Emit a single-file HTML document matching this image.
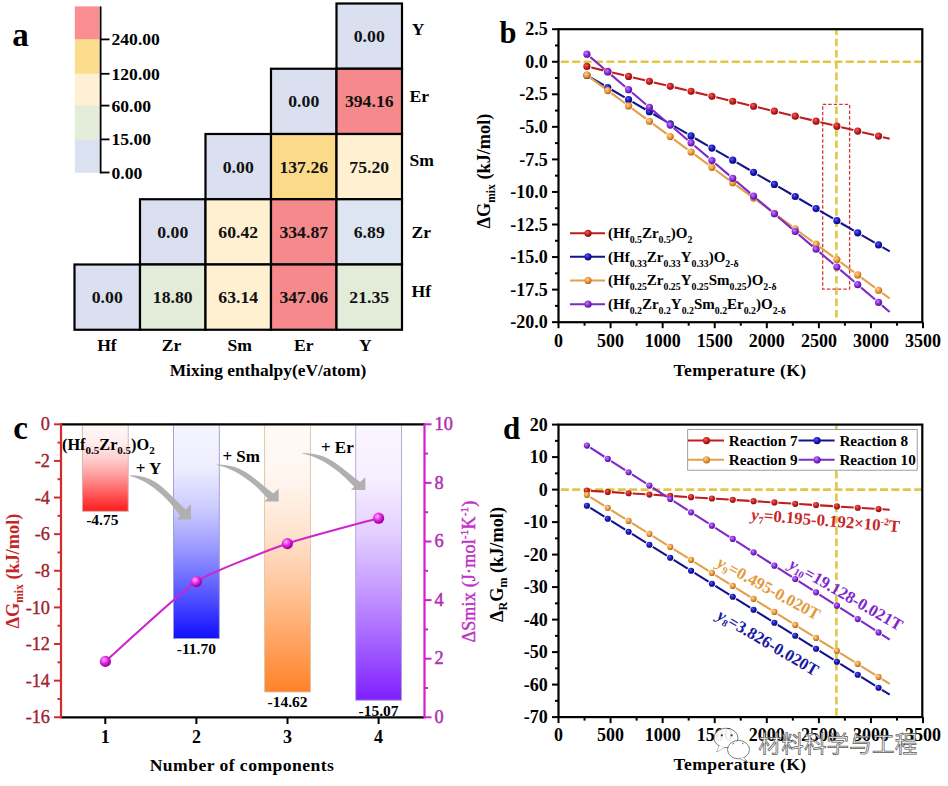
<!DOCTYPE html>
<html><head><meta charset="utf-8"><title>Figure</title>
<style>html,body{margin:0;padding:0;background:#fff;}svg{display:block;}</style></head>
<body><svg width="948" height="786" viewBox="0 0 948 786" font-family="'Liberation Serif', 'Times New Roman', serif">
<defs><radialGradient id="g_red" cx="0.38" cy="0.35" r="0.65"><stop offset="0" stop-color="#F06060"/><stop offset="0.55" stop-color="#C81E1E"/><stop offset="1" stop-color="#8A1010"/></radialGradient><radialGradient id="g_blue" cx="0.38" cy="0.35" r="0.65"><stop offset="0" stop-color="#5A5AF0"/><stop offset="0.55" stop-color="#1818C0"/><stop offset="1" stop-color="#0A0A70"/></radialGradient><radialGradient id="g_orange" cx="0.38" cy="0.35" r="0.65"><stop offset="0" stop-color="#FFD090"/><stop offset="0.55" stop-color="#EE9A3A"/><stop offset="1" stop-color="#B06A20"/></radialGradient><radialGradient id="g_purple" cx="0.38" cy="0.35" r="0.65"><stop offset="0" stop-color="#C080FF"/><stop offset="0.55" stop-color="#8A2BE2"/><stop offset="1" stop-color="#50148A"/></radialGradient><radialGradient id="g_mag" cx="0.38" cy="0.35" r="0.65"><stop offset="0" stop-color="#FFB0FF"/><stop offset="0.55" stop-color="#E020E0"/><stop offset="1" stop-color="#900090"/></radialGradient><linearGradient id="bar1" x1="0" y1="0" x2="0" y2="1"><stop offset="0" stop-color="#FFF6F6"/><stop offset="0.2" stop-color="#FFEFEF"/><stop offset="0.4" stop-color="#FFCDCD"/><stop offset="0.6" stop-color="#FF9898"/><stop offset="0.8" stop-color="#FF5A5A"/><stop offset="1" stop-color="#FF1A1A"/></linearGradient><linearGradient id="bar2" x1="0" y1="0" x2="0" y2="1"><stop offset="0" stop-color="#F5F5FF"/><stop offset="0.2" stop-color="#EEEEFF"/><stop offset="0.4" stop-color="#CACAFF"/><stop offset="0.6" stop-color="#9393FF"/><stop offset="0.8" stop-color="#5353FF"/><stop offset="1" stop-color="#1010FF"/></linearGradient><linearGradient id="bar3" x1="0" y1="0" x2="0" y2="1"><stop offset="0" stop-color="#FFFAF6"/><stop offset="0.2" stop-color="#FFF6F0"/><stop offset="0.4" stop-color="#FFE4D0"/><stop offset="0.6" stop-color="#FFC79E"/><stop offset="0.8" stop-color="#FFA564"/><stop offset="1" stop-color="#FF8228"/></linearGradient><linearGradient id="bar4" x1="0" y1="0" x2="0" y2="1"><stop offset="0" stop-color="#FAF6FF"/><stop offset="0.2" stop-color="#F6EFFF"/><stop offset="0.4" stop-color="#E3CEFF"/><stop offset="0.6" stop-color="#C59AFF"/><stop offset="0.8" stop-color="#A35EFF"/><stop offset="1" stop-color="#7F1FFF"/></linearGradient></defs>
<rect width="948" height="786" fill="#fff"/>
<text x="12.30" y="46.00" font-size="33" text-anchor="start" fill="#000" font-weight="bold" >a</text>
<rect x="74.8" y="6.4" width="24.6" height="33.30" fill="#F98D90"/>
<rect x="74.8" y="39.4" width="24.6" height="34.70" fill="#FCDD8E"/>
<rect x="74.8" y="73.8" width="24.6" height="32.10" fill="#FEF0D2"/>
<rect x="74.8" y="105.6" width="24.6" height="34.10" fill="#E3EDD9"/>
<rect x="74.8" y="139.4" width="24.6" height="33.40" fill="#DAE1F0"/>
<line x1="100.60" y1="6.40" x2="100.60" y2="173.30" stroke="#000" stroke-width="1.8" />
<line x1="100.00" y1="39.40" x2="109.50" y2="39.40" stroke="#000" stroke-width="1.8" />
<text x="111.50" y="45.40" font-size="17.6" text-anchor="start" fill="#000" font-weight="bold" >240.00</text>
<line x1="100.00" y1="73.80" x2="109.50" y2="73.80" stroke="#000" stroke-width="1.8" />
<text x="111.50" y="79.80" font-size="17.6" text-anchor="start" fill="#000" font-weight="bold" >120.00</text>
<line x1="100.00" y1="105.60" x2="109.50" y2="105.60" stroke="#000" stroke-width="1.8" />
<text x="111.50" y="111.60" font-size="17.6" text-anchor="start" fill="#000" font-weight="bold" >60.00</text>
<line x1="100.00" y1="139.40" x2="109.50" y2="139.40" stroke="#000" stroke-width="1.8" />
<text x="111.50" y="145.40" font-size="17.6" text-anchor="start" fill="#000" font-weight="bold" >15.00</text>
<line x1="100.00" y1="172.50" x2="109.50" y2="172.50" stroke="#000" stroke-width="1.8" />
<text x="111.50" y="178.50" font-size="17.6" text-anchor="start" fill="#000" font-weight="bold" >0.00</text>
<rect x="336.50" y="3.50" width="65.5" height="65.25" fill="#DAE0F0" stroke="#000" stroke-width="2.2"/>
<rect x="271.00" y="68.75" width="65.5" height="65.25" fill="#DAE0F0" stroke="#000" stroke-width="2.2"/>
<rect x="336.50" y="68.75" width="65.5" height="65.25" fill="#F6898B" stroke="#000" stroke-width="2.2"/>
<rect x="205.50" y="134.00" width="65.5" height="65.25" fill="#DAE0F0" stroke="#000" stroke-width="2.2"/>
<rect x="271.00" y="134.00" width="65.5" height="65.25" fill="#FBDB8A" stroke="#000" stroke-width="2.2"/>
<rect x="336.50" y="134.00" width="65.5" height="65.25" fill="#FEF0D0" stroke="#000" stroke-width="2.2"/>
<rect x="140.00" y="199.25" width="65.5" height="65.25" fill="#DAE0F0" stroke="#000" stroke-width="2.2"/>
<rect x="205.50" y="199.25" width="65.5" height="65.25" fill="#FEF0D0" stroke="#000" stroke-width="2.2"/>
<rect x="271.00" y="199.25" width="65.5" height="65.25" fill="#F6898B" stroke="#000" stroke-width="2.2"/>
<rect x="336.50" y="199.25" width="65.5" height="65.25" fill="#DDE5F3" stroke="#000" stroke-width="2.2"/>
<rect x="74.50" y="264.50" width="65.5" height="65.25" fill="#DAE0F0" stroke="#000" stroke-width="2.2"/>
<rect x="140.00" y="264.50" width="65.5" height="65.25" fill="#E2ECD8" stroke="#000" stroke-width="2.2"/>
<rect x="205.50" y="264.50" width="65.5" height="65.25" fill="#FEF0D0" stroke="#000" stroke-width="2.2"/>
<rect x="271.00" y="264.50" width="65.5" height="65.25" fill="#F6898B" stroke="#000" stroke-width="2.2"/>
<rect x="336.50" y="264.50" width="65.5" height="65.25" fill="#E2ECD8" stroke="#000" stroke-width="2.2"/>
<text x="369.25" y="42.10" font-size="17.7" text-anchor="middle" fill="#111" font-weight="bold" >0.00</text>
<text x="303.75" y="107.35" font-size="17.7" text-anchor="middle" fill="#111" font-weight="bold" >0.00</text>
<text x="369.25" y="107.35" font-size="17.7" text-anchor="middle" fill="#111" font-weight="bold" >394.16</text>
<text x="238.25" y="172.60" font-size="17.7" text-anchor="middle" fill="#111" font-weight="bold" >0.00</text>
<text x="303.75" y="172.60" font-size="17.7" text-anchor="middle" fill="#111" font-weight="bold" >137.26</text>
<text x="369.25" y="172.60" font-size="17.7" text-anchor="middle" fill="#111" font-weight="bold" >75.20</text>
<text x="172.75" y="237.85" font-size="17.7" text-anchor="middle" fill="#111" font-weight="bold" >0.00</text>
<text x="238.25" y="237.85" font-size="17.7" text-anchor="middle" fill="#111" font-weight="bold" >60.42</text>
<text x="303.75" y="237.85" font-size="17.7" text-anchor="middle" fill="#111" font-weight="bold" >334.87</text>
<text x="369.25" y="237.85" font-size="17.7" text-anchor="middle" fill="#111" font-weight="bold" >6.89</text>
<text x="107.25" y="303.10" font-size="17.7" text-anchor="middle" fill="#111" font-weight="bold" >0.00</text>
<text x="172.75" y="303.10" font-size="17.7" text-anchor="middle" fill="#111" font-weight="bold" >18.80</text>
<text x="238.25" y="303.10" font-size="17.7" text-anchor="middle" fill="#111" font-weight="bold" >63.14</text>
<text x="303.75" y="303.10" font-size="17.7" text-anchor="middle" fill="#111" font-weight="bold" >347.06</text>
<text x="369.25" y="303.10" font-size="17.7" text-anchor="middle" fill="#111" font-weight="bold" >21.35</text>
<text x="411.70" y="35.30" font-size="17.6" text-anchor="start" fill="#000" font-weight="bold" >Y</text>
<text x="409.50" y="101.60" font-size="17.6" text-anchor="start" fill="#000" font-weight="bold" >Er</text>
<text x="409.50" y="166.00" font-size="17.6" text-anchor="start" fill="#000" font-weight="bold" >Sm</text>
<text x="411.50" y="238.00" font-size="17.6" text-anchor="start" fill="#000" font-weight="bold" >Zr</text>
<text x="411.50" y="297.00" font-size="17.6" text-anchor="start" fill="#000" font-weight="bold" >Hf</text>
<text x="106.90" y="351.00" font-size="17.6" text-anchor="middle" fill="#000" font-weight="bold" >Hf</text>
<text x="171.50" y="351.00" font-size="17.6" text-anchor="middle" fill="#000" font-weight="bold" >Zr</text>
<text x="239.80" y="351.00" font-size="17.6" text-anchor="middle" fill="#000" font-weight="bold" >Sm</text>
<text x="303.70" y="351.00" font-size="17.6" text-anchor="middle" fill="#000" font-weight="bold" >Er</text>
<text x="365.30" y="351.00" font-size="17.6" text-anchor="middle" fill="#000" font-weight="bold" >Y</text>
<text x="268.00" y="375.70" font-size="17.4" text-anchor="middle" fill="#000" font-weight="bold" >Mixing enthalpy(eV/atom)</text>
<text x="499.50" y="43.40" font-size="30.5" text-anchor="start" fill="#000" font-weight="bold" >b</text>
<line x1="560.80" y1="61.75" x2="921.50" y2="61.75" stroke="#E2C646" stroke-width="2.6" stroke-dasharray="8,3.4"/>
<line x1="836.40" y1="30.20" x2="836.40" y2="321.20" stroke="#E2C646" stroke-width="2.6" stroke-dasharray="7.6,3.7" stroke-dashoffset="2.8"/>
<rect x="822.7" y="104.4" width="26.9" height="184.8" fill="none" stroke="#D23A3A" stroke-width="1.3" stroke-dasharray="3.5,2"/>
<path d="M591.31,67.48L603.39,70.36M612.14,72.46L624.22,75.34M632.97,77.43L645.05,80.32M653.80,82.41L665.88,85.29M674.63,87.38L686.71,90.27M695.46,92.36L707.54,95.25M716.29,97.34L728.37,100.22M737.12,102.31L749.20,105.20M757.95,107.29L770.03,110.17M778.78,112.27L790.86,115.15M799.61,117.24L811.69,120.13M820.44,122.22L832.52,125.10M841.27,127.19L853.35,130.08M862.10,132.17L874.18,135.06M882.93,137.15L889.70,138.76" stroke="#BE1E1E" stroke-width="2.1" fill="none"/>
<circle cx="586.93" cy="66.43" r="3.6" fill="url(#g_red)"/>
<circle cx="607.76" cy="71.41" r="3.6" fill="url(#g_red)"/>
<circle cx="628.59" cy="76.39" r="3.6" fill="url(#g_red)"/>
<circle cx="649.42" cy="81.36" r="3.6" fill="url(#g_red)"/>
<circle cx="670.25" cy="86.34" r="3.6" fill="url(#g_red)"/>
<circle cx="691.08" cy="91.31" r="3.6" fill="url(#g_red)"/>
<circle cx="711.91" cy="96.29" r="3.6" fill="url(#g_red)"/>
<circle cx="732.74" cy="101.27" r="3.6" fill="url(#g_red)"/>
<circle cx="753.57" cy="106.24" r="3.6" fill="url(#g_red)"/>
<circle cx="774.40" cy="111.22" r="3.6" fill="url(#g_red)"/>
<circle cx="795.23" cy="116.20" r="3.6" fill="url(#g_red)"/>
<circle cx="816.06" cy="121.17" r="3.6" fill="url(#g_red)"/>
<circle cx="836.89" cy="126.15" r="3.6" fill="url(#g_red)"/>
<circle cx="857.72" cy="131.12" r="3.6" fill="url(#g_red)"/>
<circle cx="878.55" cy="136.10" r="3.6" fill="url(#g_red)"/>
<path d="M590.82,77.68L603.87,85.26M611.65,89.78L624.70,97.37M632.48,101.89L645.53,109.48M653.31,114.00L666.36,121.59M674.14,126.11L687.19,133.70M694.97,138.22L708.02,145.80M715.80,150.33L728.85,157.91M736.63,162.44L749.68,170.02M757.46,174.54L770.51,182.13M778.29,186.65L791.34,194.24M799.12,198.76L812.17,206.35M819.95,210.87L833.00,218.46M840.78,222.98L853.83,230.56M861.61,235.09L874.66,242.67M882.44,247.20L889.70,251.41" stroke="#14148C" stroke-width="2.1" fill="none"/>
<circle cx="586.93" cy="75.41" r="3.6" fill="url(#g_blue)"/>
<circle cx="607.76" cy="87.52" r="3.6" fill="url(#g_blue)"/>
<circle cx="628.59" cy="99.63" r="3.6" fill="url(#g_blue)"/>
<circle cx="649.42" cy="111.74" r="3.6" fill="url(#g_blue)"/>
<circle cx="670.25" cy="123.85" r="3.6" fill="url(#g_blue)"/>
<circle cx="691.08" cy="135.96" r="3.6" fill="url(#g_blue)"/>
<circle cx="711.91" cy="148.07" r="3.6" fill="url(#g_blue)"/>
<circle cx="732.74" cy="160.17" r="3.6" fill="url(#g_blue)"/>
<circle cx="753.57" cy="172.28" r="3.6" fill="url(#g_blue)"/>
<circle cx="774.40" cy="184.39" r="3.6" fill="url(#g_blue)"/>
<circle cx="795.23" cy="196.50" r="3.6" fill="url(#g_blue)"/>
<circle cx="816.06" cy="208.61" r="3.6" fill="url(#g_blue)"/>
<circle cx="836.89" cy="220.72" r="3.6" fill="url(#g_blue)"/>
<circle cx="857.72" cy="232.83" r="3.6" fill="url(#g_blue)"/>
<circle cx="878.55" cy="244.93" r="3.6" fill="url(#g_blue)"/>
<path d="M590.55,77.84L604.14,87.86M611.38,93.20L624.97,103.23M632.21,108.57L645.80,118.59M653.04,123.93L666.63,133.95M673.87,139.30L687.46,149.32M694.70,154.66L708.29,164.68M715.53,170.02L729.12,180.04M736.36,185.39L749.95,195.41M757.19,200.75L770.78,210.77M778.02,216.11L791.61,226.13M798.85,231.48L812.44,241.50M819.68,246.84L833.27,256.86M840.51,262.20L854.10,272.23M861.34,277.57L874.93,287.59M882.17,292.93L889.70,298.48" stroke="#E3A04A" stroke-width="2.1" fill="none"/>
<circle cx="586.93" cy="75.17" r="3.6" fill="url(#g_orange)"/>
<circle cx="607.76" cy="90.53" r="3.6" fill="url(#g_orange)"/>
<circle cx="628.59" cy="105.90" r="3.6" fill="url(#g_orange)"/>
<circle cx="649.42" cy="121.26" r="3.6" fill="url(#g_orange)"/>
<circle cx="670.25" cy="136.62" r="3.6" fill="url(#g_orange)"/>
<circle cx="691.08" cy="151.99" r="3.6" fill="url(#g_orange)"/>
<circle cx="711.91" cy="167.35" r="3.6" fill="url(#g_orange)"/>
<circle cx="732.74" cy="182.71" r="3.6" fill="url(#g_orange)"/>
<circle cx="753.57" cy="198.08" r="3.6" fill="url(#g_orange)"/>
<circle cx="774.40" cy="213.44" r="3.6" fill="url(#g_orange)"/>
<circle cx="795.23" cy="228.81" r="3.6" fill="url(#g_orange)"/>
<circle cx="816.06" cy="244.17" r="3.6" fill="url(#g_orange)"/>
<circle cx="836.89" cy="259.53" r="3.6" fill="url(#g_orange)"/>
<circle cx="857.72" cy="274.90" r="3.6" fill="url(#g_orange)"/>
<circle cx="878.55" cy="290.26" r="3.6" fill="url(#g_orange)"/>
<path d="M590.36,57.10L604.34,69.00M611.19,74.84L625.17,86.74M632.02,92.57L646.00,104.47M652.85,110.30L666.83,122.20M673.68,128.04L687.66,139.94M694.51,145.77L708.49,157.67M715.34,163.50L729.32,175.40M736.17,181.24L750.15,193.14M757.00,198.97L770.98,210.87M777.83,216.70L791.81,228.60M798.66,234.44L812.64,246.34M819.49,252.17L833.47,264.07M840.32,269.90L854.30,281.80M861.15,287.64L875.13,299.54M881.98,305.37L889.70,311.94" stroke="#7D2AC8" stroke-width="2.1" fill="none"/>
<circle cx="586.93" cy="54.19" r="3.6" fill="url(#g_purple)"/>
<circle cx="607.76" cy="71.92" r="3.6" fill="url(#g_purple)"/>
<circle cx="628.59" cy="89.65" r="3.6" fill="url(#g_purple)"/>
<circle cx="649.42" cy="107.39" r="3.6" fill="url(#g_purple)"/>
<circle cx="670.25" cy="125.12" r="3.6" fill="url(#g_purple)"/>
<circle cx="691.08" cy="142.85" r="3.6" fill="url(#g_purple)"/>
<circle cx="711.91" cy="160.59" r="3.6" fill="url(#g_purple)"/>
<circle cx="732.74" cy="178.32" r="3.6" fill="url(#g_purple)"/>
<circle cx="753.57" cy="196.05" r="3.6" fill="url(#g_purple)"/>
<circle cx="774.40" cy="213.79" r="3.6" fill="url(#g_purple)"/>
<circle cx="795.23" cy="231.52" r="3.6" fill="url(#g_purple)"/>
<circle cx="816.06" cy="249.25" r="3.6" fill="url(#g_purple)"/>
<circle cx="836.89" cy="266.99" r="3.6" fill="url(#g_purple)"/>
<circle cx="857.72" cy="284.72" r="3.6" fill="url(#g_purple)"/>
<circle cx="878.55" cy="302.45" r="3.6" fill="url(#g_purple)"/>
<rect x="558.5" y="29.2" width="363.80" height="293.00" fill="none" stroke="#000" stroke-width="2.2"/>
<line x1="552.00" y1="29.20" x2="558.50" y2="29.20" stroke="#000" stroke-width="2" />
<text x="547.80" y="35.30" font-size="18" text-anchor="end" fill="#000" font-weight="bold" >2.5</text>
<line x1="555.00" y1="45.47" x2="558.50" y2="45.47" stroke="#000" stroke-width="2" />
<line x1="552.00" y1="61.75" x2="558.50" y2="61.75" stroke="#000" stroke-width="2" />
<text x="547.80" y="67.85" font-size="18" text-anchor="end" fill="#000" font-weight="bold" >0.0</text>
<line x1="555.00" y1="78.02" x2="558.50" y2="78.02" stroke="#000" stroke-width="2" />
<line x1="552.00" y1="94.30" x2="558.50" y2="94.30" stroke="#000" stroke-width="2" />
<text x="547.80" y="100.40" font-size="18" text-anchor="end" fill="#000" font-weight="bold" >-2.5</text>
<line x1="555.00" y1="110.58" x2="558.50" y2="110.58" stroke="#000" stroke-width="2" />
<line x1="552.00" y1="126.85" x2="558.50" y2="126.85" stroke="#000" stroke-width="2" />
<text x="547.80" y="132.95" font-size="18" text-anchor="end" fill="#000" font-weight="bold" >-5.0</text>
<line x1="555.00" y1="143.12" x2="558.50" y2="143.12" stroke="#000" stroke-width="2" />
<line x1="552.00" y1="159.40" x2="558.50" y2="159.40" stroke="#000" stroke-width="2" />
<text x="547.80" y="165.50" font-size="18" text-anchor="end" fill="#000" font-weight="bold" >-7.5</text>
<line x1="555.00" y1="175.67" x2="558.50" y2="175.67" stroke="#000" stroke-width="2" />
<line x1="552.00" y1="191.95" x2="558.50" y2="191.95" stroke="#000" stroke-width="2" />
<text x="547.80" y="198.05" font-size="18" text-anchor="end" fill="#000" font-weight="bold" >-10.0</text>
<line x1="555.00" y1="208.22" x2="558.50" y2="208.22" stroke="#000" stroke-width="2" />
<line x1="552.00" y1="224.50" x2="558.50" y2="224.50" stroke="#000" stroke-width="2" />
<text x="547.80" y="230.60" font-size="18" text-anchor="end" fill="#000" font-weight="bold" >-12.5</text>
<line x1="555.00" y1="240.77" x2="558.50" y2="240.77" stroke="#000" stroke-width="2" />
<line x1="552.00" y1="257.05" x2="558.50" y2="257.05" stroke="#000" stroke-width="2" />
<text x="547.80" y="263.15" font-size="18" text-anchor="end" fill="#000" font-weight="bold" >-15.0</text>
<line x1="555.00" y1="273.32" x2="558.50" y2="273.32" stroke="#000" stroke-width="2" />
<line x1="552.00" y1="289.60" x2="558.50" y2="289.60" stroke="#000" stroke-width="2" />
<text x="547.80" y="295.70" font-size="18" text-anchor="end" fill="#000" font-weight="bold" >-17.5</text>
<line x1="555.00" y1="305.88" x2="558.50" y2="305.88" stroke="#000" stroke-width="2" />
<line x1="552.00" y1="322.15" x2="558.50" y2="322.15" stroke="#000" stroke-width="2" />
<text x="547.80" y="328.25" font-size="18" text-anchor="end" fill="#000" font-weight="bold" >-20.0</text>
<line x1="558.50" y1="322.20" x2="558.50" y2="328.20" stroke="#000" stroke-width="2" />
<line x1="584.54" y1="322.20" x2="584.54" y2="325.70" stroke="#000" stroke-width="2" />
<line x1="610.58" y1="322.20" x2="610.58" y2="328.20" stroke="#000" stroke-width="2" />
<line x1="636.61" y1="322.20" x2="636.61" y2="325.70" stroke="#000" stroke-width="2" />
<line x1="662.65" y1="322.20" x2="662.65" y2="328.20" stroke="#000" stroke-width="2" />
<line x1="688.69" y1="322.20" x2="688.69" y2="325.70" stroke="#000" stroke-width="2" />
<line x1="714.73" y1="322.20" x2="714.73" y2="328.20" stroke="#000" stroke-width="2" />
<line x1="740.76" y1="322.20" x2="740.76" y2="325.70" stroke="#000" stroke-width="2" />
<line x1="766.80" y1="322.20" x2="766.80" y2="328.20" stroke="#000" stroke-width="2" />
<line x1="792.84" y1="322.20" x2="792.84" y2="325.70" stroke="#000" stroke-width="2" />
<line x1="818.88" y1="322.20" x2="818.88" y2="328.20" stroke="#000" stroke-width="2" />
<line x1="844.91" y1="322.20" x2="844.91" y2="325.70" stroke="#000" stroke-width="2" />
<line x1="870.95" y1="322.20" x2="870.95" y2="328.20" stroke="#000" stroke-width="2" />
<line x1="896.99" y1="322.20" x2="896.99" y2="325.70" stroke="#000" stroke-width="2" />
<line x1="923.03" y1="322.20" x2="923.03" y2="328.20" stroke="#000" stroke-width="2" />
<text x="558.50" y="346.50" font-size="18" text-anchor="middle" fill="#000" font-weight="bold" >0</text>
<text x="610.58" y="346.50" font-size="18" text-anchor="middle" fill="#000" font-weight="bold" >500</text>
<text x="662.65" y="346.50" font-size="18" text-anchor="middle" fill="#000" font-weight="bold" >1000</text>
<text x="714.73" y="346.50" font-size="18" text-anchor="middle" fill="#000" font-weight="bold" >1500</text>
<text x="766.80" y="346.50" font-size="18" text-anchor="middle" fill="#000" font-weight="bold" >2000</text>
<text x="818.88" y="346.50" font-size="18" text-anchor="middle" fill="#000" font-weight="bold" >2500</text>
<text x="870.95" y="346.50" font-size="18" text-anchor="middle" fill="#000" font-weight="bold" >3000</text>
<text x="923.03" y="346.50" font-size="18" text-anchor="middle" fill="#000" font-weight="bold" >3500</text>
<text x="740.00" y="376.40" font-size="17.6" text-anchor="middle" fill="#000" font-weight="bold" letter-spacing="0.35">Temperature (K)</text>
<text transform="translate(490,171) rotate(-90)" font-size="18.3" font-weight="bold" text-anchor="middle">ΔG<tspan font-size="11.5" dy="4.5">mix</tspan><tspan dy="-4.5"> (kJ/mol)</tspan></text>
<line x1="570.00" y1="233.30" x2="605.00" y2="233.30" stroke="#BE1E1E" stroke-width="2" />
<circle cx="588" cy="233.3" r="3.6" fill="url(#g_red)"/>
<text x="608" y="238.30" font-size="15" font-weight="bold">(Hf<tspan font-size="9.8" dy="4.8">0.5</tspan><tspan dy="-4.8">Zr</tspan><tspan font-size="9.8" dy="4.8">0.5</tspan><tspan dy="-4.8">)O</tspan><tspan font-size="9.8" dy="4.8">2</tspan></text>
<line x1="570.00" y1="256.80" x2="605.00" y2="256.80" stroke="#14148C" stroke-width="2" />
<circle cx="588" cy="256.8" r="3.6" fill="url(#g_blue)"/>
<text x="608" y="261.80" font-size="15" font-weight="bold">(Hf<tspan font-size="9.8" dy="4.8">0.33</tspan><tspan dy="-4.8">Zr</tspan><tspan font-size="9.8" dy="4.8">0.33</tspan><tspan dy="-4.8">Y</tspan><tspan font-size="9.8" dy="4.8">0.33</tspan><tspan dy="-4.8">)O</tspan><tspan font-size="9.8" dy="4.8">2-δ</tspan></text>
<line x1="570.00" y1="280.40" x2="605.00" y2="280.40" stroke="#E3A04A" stroke-width="2" />
<circle cx="588" cy="280.4" r="3.6" fill="url(#g_orange)"/>
<text x="608" y="285.40" font-size="15" font-weight="bold">(Hf<tspan font-size="9.8" dy="4.8">0.25</tspan><tspan dy="-4.8">Zr</tspan><tspan font-size="9.8" dy="4.8">0.25</tspan><tspan dy="-4.8">Y</tspan><tspan font-size="9.8" dy="4.8">0.25</tspan><tspan dy="-4.8">Sm</tspan><tspan font-size="9.8" dy="4.8">0.25</tspan><tspan dy="-4.8">)O</tspan><tspan font-size="9.8" dy="4.8">2-δ</tspan></text>
<line x1="570.00" y1="304.20" x2="605.00" y2="304.20" stroke="#7D2AC8" stroke-width="2" />
<circle cx="588" cy="304.2" r="3.6" fill="url(#g_purple)"/>
<text x="608" y="309.20" font-size="15" font-weight="bold">(Hf<tspan font-size="9.8" dy="4.8">0.2</tspan><tspan dy="-4.8">Zr</tspan><tspan font-size="9.8" dy="4.8">0.2</tspan><tspan dy="-4.8">Y</tspan><tspan font-size="9.8" dy="4.8">0.2</tspan><tspan dy="-4.8">Sm</tspan><tspan font-size="9.8" dy="4.8">0.2</tspan><tspan dy="-4.8">Er</tspan><tspan font-size="9.8" dy="4.8">0.2</tspan><tspan dy="-4.8">)O</tspan><tspan font-size="9.8" dy="4.8">2-δ</tspan></text>
<text x="13.20" y="439.00" font-size="33" text-anchor="start" fill="#000" font-weight="bold" >c</text>
<rect x="82.40" y="424.3" width="45.8" height="86.97" fill="url(#bar1)" stroke="#D4AEAE" stroke-width="0.9"/>
<text x="102.30" y="524.77" font-size="15.5" text-anchor="middle" fill="#000" font-weight="bold" >-4.75</text>
<rect x="173.50" y="424.3" width="45.8" height="214.23" fill="url(#bar2)" stroke="#9C9CCC" stroke-width="0.9"/>
<text x="196.40" y="654.03" font-size="15.5" text-anchor="middle" fill="#000" font-weight="bold" >-11.70</text>
<rect x="264.60" y="424.3" width="45.8" height="267.69" fill="url(#bar3)" stroke="#DCC4A4" stroke-width="0.9"/>
<text x="287.50" y="707.49" font-size="15.5" text-anchor="middle" fill="#000" font-weight="bold" >-14.62</text>
<rect x="355.70" y="424.3" width="45.8" height="275.93" fill="url(#bar4)" stroke="#B0A2D2" stroke-width="0.9"/>
<text x="378.60" y="715.73" font-size="15.5" text-anchor="middle" fill="#000" font-weight="bold" >-15.07</text>
<line x1="61.00" y1="424.30" x2="424.50" y2="424.30" stroke="#000" stroke-width="2.2" />
<line x1="61.00" y1="717.30" x2="424.50" y2="717.30" stroke="#000" stroke-width="2.2" />
<line x1="61.00" y1="423.30" x2="61.00" y2="718.30" stroke="#D42A2A" stroke-width="2.2" />
<line x1="424.50" y1="423.30" x2="424.50" y2="718.30" stroke="#D020D0" stroke-width="2.2" />
<line x1="54.00" y1="424.30" x2="61.00" y2="424.30" stroke="#D42A2A" stroke-width="2" />
<text x="50.00" y="430.40" font-size="18.3" text-anchor="end" fill="#A01E2E" font-weight="normal" stroke="#A01E2E" stroke-width="0.35">0</text>
<line x1="57.50" y1="442.61" x2="61.00" y2="442.61" stroke="#D42A2A" stroke-width="2" />
<line x1="54.00" y1="460.92" x2="61.00" y2="460.92" stroke="#D42A2A" stroke-width="2" />
<text x="50.00" y="467.02" font-size="18.3" text-anchor="end" fill="#A01E2E" font-weight="normal" stroke="#A01E2E" stroke-width="0.35">-2</text>
<line x1="57.50" y1="479.23" x2="61.00" y2="479.23" stroke="#D42A2A" stroke-width="2" />
<line x1="54.00" y1="497.54" x2="61.00" y2="497.54" stroke="#D42A2A" stroke-width="2" />
<text x="50.00" y="503.64" font-size="18.3" text-anchor="end" fill="#A01E2E" font-weight="normal" stroke="#A01E2E" stroke-width="0.35">-4</text>
<line x1="57.50" y1="515.85" x2="61.00" y2="515.85" stroke="#D42A2A" stroke-width="2" />
<line x1="54.00" y1="534.16" x2="61.00" y2="534.16" stroke="#D42A2A" stroke-width="2" />
<text x="50.00" y="540.26" font-size="18.3" text-anchor="end" fill="#A01E2E" font-weight="normal" stroke="#A01E2E" stroke-width="0.35">-6</text>
<line x1="57.50" y1="552.47" x2="61.00" y2="552.47" stroke="#D42A2A" stroke-width="2" />
<line x1="54.00" y1="570.78" x2="61.00" y2="570.78" stroke="#D42A2A" stroke-width="2" />
<text x="50.00" y="576.88" font-size="18.3" text-anchor="end" fill="#A01E2E" font-weight="normal" stroke="#A01E2E" stroke-width="0.35">-8</text>
<line x1="57.50" y1="589.09" x2="61.00" y2="589.09" stroke="#D42A2A" stroke-width="2" />
<line x1="54.00" y1="607.40" x2="61.00" y2="607.40" stroke="#D42A2A" stroke-width="2" />
<text x="50.00" y="613.50" font-size="18.3" text-anchor="end" fill="#A01E2E" font-weight="normal" stroke="#A01E2E" stroke-width="0.35">-10</text>
<line x1="57.50" y1="625.71" x2="61.00" y2="625.71" stroke="#D42A2A" stroke-width="2" />
<line x1="54.00" y1="644.02" x2="61.00" y2="644.02" stroke="#D42A2A" stroke-width="2" />
<text x="50.00" y="650.12" font-size="18.3" text-anchor="end" fill="#A01E2E" font-weight="normal" stroke="#A01E2E" stroke-width="0.35">-12</text>
<line x1="57.50" y1="662.33" x2="61.00" y2="662.33" stroke="#D42A2A" stroke-width="2" />
<line x1="54.00" y1="680.64" x2="61.00" y2="680.64" stroke="#D42A2A" stroke-width="2" />
<text x="50.00" y="686.74" font-size="18.3" text-anchor="end" fill="#A01E2E" font-weight="normal" stroke="#A01E2E" stroke-width="0.35">-14</text>
<line x1="57.50" y1="698.95" x2="61.00" y2="698.95" stroke="#D42A2A" stroke-width="2" />
<line x1="54.00" y1="717.26" x2="61.00" y2="717.26" stroke="#D42A2A" stroke-width="2" />
<text x="50.00" y="723.36" font-size="18.3" text-anchor="end" fill="#A01E2E" font-weight="normal" stroke="#A01E2E" stroke-width="0.35">-16</text>
<line x1="424.50" y1="717.30" x2="431.50" y2="717.30" stroke="#D020D0" stroke-width="2" />
<text x="434.50" y="722.90" font-size="18.3" text-anchor="start" fill="#B030B4" font-weight="normal" stroke="#B030B4" stroke-width="0.5">0</text>
<line x1="424.50" y1="688.00" x2="428.00" y2="688.00" stroke="#D020D0" stroke-width="2" />
<line x1="424.50" y1="658.70" x2="431.50" y2="658.70" stroke="#D020D0" stroke-width="2" />
<text x="434.50" y="664.30" font-size="18.3" text-anchor="start" fill="#B030B4" font-weight="normal" stroke="#B030B4" stroke-width="0.5">2</text>
<line x1="424.50" y1="629.40" x2="428.00" y2="629.40" stroke="#D020D0" stroke-width="2" />
<line x1="424.50" y1="600.10" x2="431.50" y2="600.10" stroke="#D020D0" stroke-width="2" />
<text x="434.50" y="605.70" font-size="18.3" text-anchor="start" fill="#B030B4" font-weight="normal" stroke="#B030B4" stroke-width="0.5">4</text>
<line x1="424.50" y1="570.80" x2="428.00" y2="570.80" stroke="#D020D0" stroke-width="2" />
<line x1="424.50" y1="541.50" x2="431.50" y2="541.50" stroke="#D020D0" stroke-width="2" />
<text x="434.50" y="547.10" font-size="18.3" text-anchor="start" fill="#B030B4" font-weight="normal" stroke="#B030B4" stroke-width="0.5">6</text>
<line x1="424.50" y1="512.20" x2="428.00" y2="512.20" stroke="#D020D0" stroke-width="2" />
<line x1="424.50" y1="482.90" x2="431.50" y2="482.90" stroke="#D020D0" stroke-width="2" />
<text x="434.50" y="488.50" font-size="18.3" text-anchor="start" fill="#B030B4" font-weight="normal" stroke="#B030B4" stroke-width="0.5">8</text>
<line x1="424.50" y1="453.60" x2="428.00" y2="453.60" stroke="#D020D0" stroke-width="2" />
<line x1="424.50" y1="424.30" x2="431.50" y2="424.30" stroke="#D020D0" stroke-width="2" />
<text x="434.50" y="429.90" font-size="18.3" text-anchor="start" fill="#B030B4" font-weight="normal" stroke="#B030B4" stroke-width="0.5">10</text>
<line x1="105.30" y1="717.30" x2="105.30" y2="724.00" stroke="#000" stroke-width="2" />
<text x="105.30" y="743.10" font-size="18" text-anchor="middle" fill="#000" font-weight="bold" >1</text>
<line x1="196.40" y1="717.30" x2="196.40" y2="724.00" stroke="#000" stroke-width="2" />
<text x="196.40" y="743.10" font-size="18" text-anchor="middle" fill="#000" font-weight="bold" >2</text>
<line x1="287.50" y1="717.30" x2="287.50" y2="724.00" stroke="#000" stroke-width="2" />
<text x="287.50" y="743.10" font-size="18" text-anchor="middle" fill="#000" font-weight="bold" >3</text>
<line x1="378.60" y1="717.30" x2="378.60" y2="724.00" stroke="#000" stroke-width="2" />
<text x="378.60" y="743.10" font-size="18" text-anchor="middle" fill="#000" font-weight="bold" >4</text>
<text x="242.00" y="770.60" font-size="17.6" text-anchor="middle" fill="#000" font-weight="bold" letter-spacing="0.45">Number of components</text>
<text transform="translate(18.5,571) rotate(-90)" font-size="18.3" font-weight="bold" text-anchor="middle" fill="#C42626">ΔG<tspan font-size="11.5" dy="4.5">mix</tspan><tspan dy="-4.5"> (kJ/mol)</tspan></text>
<text transform="translate(474.5,571.6) rotate(-90)" font-size="18" font-weight="normal" text-anchor="middle" fill="#C22EC6" stroke="#C22EC6" stroke-width="0.4" letter-spacing="0.2">ΔSmix (J·mol<tspan font-size="11" dy="-6.5">-1</tspan><tspan dy="6.5">K</tspan><tspan font-size="11" dy="-6.5">-1</tspan><tspan dy="6.5">)</tspan></text>
<text x="62" y="449.5" font-size="16.3" font-weight="bold">(Hf<tspan font-size="11" dy="4">0.5</tspan><tspan dy="-4">Zr</tspan><tspan font-size="11" dy="4">0.5</tspan><tspan dy="-4">)O</tspan><tspan font-size="11" dy="4">2</tspan></text>
<path d="M0,0 C12,-0.2 24,3 34.7,10.9 C42,16.4 50,23 57.8,29 L63.2,24.2 L63.2,37.1 L48.8,37.1 L52,33.8 C46,27.5 40,21.5 34,17 C25,10 14,3.5 0,0.5 Z" transform="translate(130.1,475.3) scale(0.963,1.19)" fill="#B0B0B0"/>
<path d="M0,0 C12,-0.2 24,3 34.7,10.9 C42,16.4 50,23 57.8,29 L63.2,24.2 L63.2,37.1 L48.8,37.1 L52,33.8 C46,27.5 40,21.5 34,17 C25,10 14,3.5 0,0.5 Z" transform="translate(216.7,464.5) scale(0.98,1.0)" fill="#B0B0B0"/>
<path d="M0,0 C12,-0.2 24,3 34.7,10.9 C42,16.4 50,23 57.8,29 L63.2,24.2 L63.2,37.1 L48.8,37.1 L52,33.8 C46,27.5 40,21.5 34,17 C25,10 14,3.5 0,0.5 Z" transform="translate(302.2,453) scale(1.0,1.0)" fill="#B0B0B0"/>
<text x="148.50" y="474.40" font-size="17" text-anchor="middle" fill="#000" font-weight="bold" >+ Y</text>
<text x="241.20" y="461.80" font-size="17" text-anchor="middle" fill="#000" font-weight="bold" >+ Sm</text>
<text x="337.30" y="452.80" font-size="17" text-anchor="middle" fill="#000" font-weight="bold" >+ Er</text>
<path d="M105.40,661.40 C112.98,654.75 181.13,591.42 196.30,581.60 C211.47,571.78 272.21,548.88 287.40,543.60 C302.59,538.32 371.00,520.32 378.60,518.20" fill="none" stroke="#CC26CC" stroke-width="2.1"/>
<circle cx="105.40" cy="661.40" r="5.6" fill="url(#g_mag)"/>
<circle cx="196.30" cy="581.60" r="5.6" fill="url(#g_mag)"/>
<circle cx="287.40" cy="543.60" r="5.6" fill="url(#g_mag)"/>
<circle cx="378.60" cy="518.20" r="5.6" fill="url(#g_mag)"/>
<text x="503.00" y="439.00" font-size="31" text-anchor="start" fill="#000" font-weight="bold" >d</text>
<line x1="560.80" y1="489.60" x2="921.50" y2="489.60" stroke="#E2C646" stroke-width="2.6" stroke-dasharray="8,3.4"/>
<line x1="836.40" y1="425.60" x2="836.40" y2="716.10" stroke="#E2C646" stroke-width="2.6" stroke-dasharray="7.6,3.7"/>
<path d="M590.92,490.84L603.77,491.66M611.75,492.16L624.60,492.97M632.58,493.48L645.43,494.29M653.41,494.80L666.26,495.61M674.24,496.12L687.09,496.93M695.07,497.44L707.92,498.25M715.90,498.76L728.75,499.57M736.73,500.08L749.58,500.89M757.56,501.40L770.41,502.21M778.39,502.72L791.24,503.53M799.22,504.04L812.07,504.85M820.05,505.36L832.90,506.17M840.88,506.68L853.73,507.49M861.71,507.99L874.56,508.81M882.54,509.31L889.70,509.77" stroke="#BE1E1E" stroke-width="2.1" fill="none"/>
<circle cx="586.93" cy="490.59" r="3.1" fill="url(#g_red)"/>
<circle cx="607.76" cy="491.91" r="3.1" fill="url(#g_red)"/>
<circle cx="628.59" cy="493.23" r="3.1" fill="url(#g_red)"/>
<circle cx="649.42" cy="494.55" r="3.1" fill="url(#g_red)"/>
<circle cx="670.25" cy="495.87" r="3.1" fill="url(#g_red)"/>
<circle cx="691.08" cy="497.19" r="3.1" fill="url(#g_red)"/>
<circle cx="711.91" cy="498.51" r="3.1" fill="url(#g_red)"/>
<circle cx="732.74" cy="499.83" r="3.1" fill="url(#g_red)"/>
<circle cx="753.57" cy="501.14" r="3.1" fill="url(#g_red)"/>
<circle cx="774.40" cy="502.46" r="3.1" fill="url(#g_red)"/>
<circle cx="795.23" cy="503.78" r="3.1" fill="url(#g_red)"/>
<circle cx="816.06" cy="505.10" r="3.1" fill="url(#g_red)"/>
<circle cx="836.89" cy="506.42" r="3.1" fill="url(#g_red)"/>
<circle cx="857.72" cy="507.74" r="3.1" fill="url(#g_red)"/>
<circle cx="878.55" cy="509.06" r="3.1" fill="url(#g_red)"/>
<path d="M590.33,497.03L604.37,505.79M611.16,510.03L625.20,518.79M631.99,523.03L646.03,531.79M652.82,536.03L666.86,544.79M673.65,549.03L687.69,557.79M694.48,562.03L708.52,570.79M715.31,575.03L729.35,583.79M736.14,588.03L750.18,596.79M756.97,601.03L771.01,609.79M777.80,614.03L791.84,622.79M798.63,627.03L812.67,635.79M819.46,640.03L833.50,648.79M840.29,653.03L854.33,661.79M861.12,666.03L875.16,674.79M881.95,679.03L889.70,683.87" stroke="#E3A04A" stroke-width="2.1" fill="none"/>
<circle cx="586.93" cy="494.91" r="3.1" fill="url(#g_orange)"/>
<circle cx="607.76" cy="507.91" r="3.1" fill="url(#g_orange)"/>
<circle cx="628.59" cy="520.91" r="3.1" fill="url(#g_orange)"/>
<circle cx="649.42" cy="533.91" r="3.1" fill="url(#g_orange)"/>
<circle cx="670.25" cy="546.91" r="3.1" fill="url(#g_orange)"/>
<circle cx="691.08" cy="559.91" r="3.1" fill="url(#g_orange)"/>
<circle cx="711.91" cy="572.91" r="3.1" fill="url(#g_orange)"/>
<circle cx="732.74" cy="585.91" r="3.1" fill="url(#g_orange)"/>
<circle cx="753.57" cy="598.91" r="3.1" fill="url(#g_orange)"/>
<circle cx="774.40" cy="611.91" r="3.1" fill="url(#g_orange)"/>
<circle cx="795.23" cy="624.91" r="3.1" fill="url(#g_orange)"/>
<circle cx="816.06" cy="637.91" r="3.1" fill="url(#g_orange)"/>
<circle cx="836.89" cy="650.91" r="3.1" fill="url(#g_orange)"/>
<circle cx="857.72" cy="663.91" r="3.1" fill="url(#g_orange)"/>
<circle cx="878.55" cy="676.91" r="3.1" fill="url(#g_orange)"/>
<path d="M590.33,507.85L604.37,516.62M611.16,520.85L625.20,529.62M631.99,533.85L646.03,542.62M652.82,546.85L666.86,555.62M673.65,559.85L687.69,568.62M694.48,572.85L708.52,581.62M715.31,585.85L729.35,594.62M736.14,598.85L750.18,607.62M756.97,611.85L771.01,620.62M777.80,624.85L791.84,633.62M798.63,637.85L812.67,646.62M819.46,650.85L833.50,659.62M840.29,663.85L854.33,672.62M861.12,676.85L875.16,685.62M881.95,689.85L889.70,694.69" stroke="#14148C" stroke-width="2.1" fill="none"/>
<circle cx="586.93" cy="505.74" r="3.1" fill="url(#g_blue)"/>
<circle cx="607.76" cy="518.74" r="3.1" fill="url(#g_blue)"/>
<circle cx="628.59" cy="531.74" r="3.1" fill="url(#g_blue)"/>
<circle cx="649.42" cy="544.74" r="3.1" fill="url(#g_blue)"/>
<circle cx="670.25" cy="557.74" r="3.1" fill="url(#g_blue)"/>
<circle cx="691.08" cy="570.74" r="3.1" fill="url(#g_blue)"/>
<circle cx="711.91" cy="583.74" r="3.1" fill="url(#g_blue)"/>
<circle cx="732.74" cy="596.74" r="3.1" fill="url(#g_blue)"/>
<circle cx="753.57" cy="609.74" r="3.1" fill="url(#g_blue)"/>
<circle cx="774.40" cy="622.74" r="3.1" fill="url(#g_blue)"/>
<circle cx="795.23" cy="635.74" r="3.1" fill="url(#g_blue)"/>
<circle cx="816.06" cy="648.74" r="3.1" fill="url(#g_blue)"/>
<circle cx="836.89" cy="661.74" r="3.1" fill="url(#g_blue)"/>
<circle cx="857.72" cy="674.74" r="3.1" fill="url(#g_blue)"/>
<circle cx="878.55" cy="687.74" r="3.1" fill="url(#g_blue)"/>
<path d="M590.30,447.72L604.39,456.75M611.13,461.06L625.22,470.09M631.96,474.41L646.05,483.44M652.79,487.75L666.88,496.78M673.62,501.10L687.71,510.13M694.45,514.44L708.54,523.47M715.28,527.79L729.37,536.82M736.11,541.13L750.20,550.16M756.94,554.48L771.03,563.50M777.77,567.82L791.86,576.85M798.60,581.16L812.69,590.19M819.43,594.51L833.52,603.54M840.26,607.85L854.35,616.88M861.09,621.20L875.18,630.23M881.92,634.54L889.70,639.52" stroke="#7D2AC8" stroke-width="2.1" fill="none"/>
<circle cx="586.93" cy="445.56" r="3.1" fill="url(#g_purple)"/>
<circle cx="607.76" cy="458.91" r="3.1" fill="url(#g_purple)"/>
<circle cx="628.59" cy="472.25" r="3.1" fill="url(#g_purple)"/>
<circle cx="649.42" cy="485.59" r="3.1" fill="url(#g_purple)"/>
<circle cx="670.25" cy="498.94" r="3.1" fill="url(#g_purple)"/>
<circle cx="691.08" cy="512.28" r="3.1" fill="url(#g_purple)"/>
<circle cx="711.91" cy="525.63" r="3.1" fill="url(#g_purple)"/>
<circle cx="732.74" cy="538.97" r="3.1" fill="url(#g_purple)"/>
<circle cx="753.57" cy="552.32" r="3.1" fill="url(#g_purple)"/>
<circle cx="774.40" cy="565.66" r="3.1" fill="url(#g_purple)"/>
<circle cx="795.23" cy="579.01" r="3.1" fill="url(#g_purple)"/>
<circle cx="816.06" cy="592.35" r="3.1" fill="url(#g_purple)"/>
<circle cx="836.89" cy="605.70" r="3.1" fill="url(#g_purple)"/>
<circle cx="857.72" cy="619.04" r="3.1" fill="url(#g_purple)"/>
<circle cx="878.55" cy="632.38" r="3.1" fill="url(#g_purple)"/>
<rect x="558.5" y="424.6" width="363.80" height="292.50" fill="none" stroke="#000" stroke-width="2.2"/>
<line x1="552.00" y1="424.60" x2="558.50" y2="424.60" stroke="#000" stroke-width="2" />
<text x="547.80" y="430.70" font-size="18" text-anchor="end" fill="#000" font-weight="bold" >20</text>
<line x1="555.00" y1="440.85" x2="558.50" y2="440.85" stroke="#000" stroke-width="2" />
<line x1="552.00" y1="457.10" x2="558.50" y2="457.10" stroke="#000" stroke-width="2" />
<text x="547.80" y="463.20" font-size="18" text-anchor="end" fill="#000" font-weight="bold" >10</text>
<line x1="555.00" y1="473.35" x2="558.50" y2="473.35" stroke="#000" stroke-width="2" />
<line x1="552.00" y1="489.60" x2="558.50" y2="489.60" stroke="#000" stroke-width="2" />
<text x="547.80" y="495.70" font-size="18" text-anchor="end" fill="#000" font-weight="bold" >0</text>
<line x1="555.00" y1="505.85" x2="558.50" y2="505.85" stroke="#000" stroke-width="2" />
<line x1="552.00" y1="522.10" x2="558.50" y2="522.10" stroke="#000" stroke-width="2" />
<text x="547.80" y="528.20" font-size="18" text-anchor="end" fill="#000" font-weight="bold" >-10</text>
<line x1="555.00" y1="538.35" x2="558.50" y2="538.35" stroke="#000" stroke-width="2" />
<line x1="552.00" y1="554.60" x2="558.50" y2="554.60" stroke="#000" stroke-width="2" />
<text x="547.80" y="560.70" font-size="18" text-anchor="end" fill="#000" font-weight="bold" >-20</text>
<line x1="555.00" y1="570.85" x2="558.50" y2="570.85" stroke="#000" stroke-width="2" />
<line x1="552.00" y1="587.10" x2="558.50" y2="587.10" stroke="#000" stroke-width="2" />
<text x="547.80" y="593.20" font-size="18" text-anchor="end" fill="#000" font-weight="bold" >-30</text>
<line x1="555.00" y1="603.35" x2="558.50" y2="603.35" stroke="#000" stroke-width="2" />
<line x1="552.00" y1="619.60" x2="558.50" y2="619.60" stroke="#000" stroke-width="2" />
<text x="547.80" y="625.70" font-size="18" text-anchor="end" fill="#000" font-weight="bold" >-40</text>
<line x1="555.00" y1="635.85" x2="558.50" y2="635.85" stroke="#000" stroke-width="2" />
<line x1="552.00" y1="652.10" x2="558.50" y2="652.10" stroke="#000" stroke-width="2" />
<text x="547.80" y="658.20" font-size="18" text-anchor="end" fill="#000" font-weight="bold" >-50</text>
<line x1="555.00" y1="668.35" x2="558.50" y2="668.35" stroke="#000" stroke-width="2" />
<line x1="552.00" y1="684.60" x2="558.50" y2="684.60" stroke="#000" stroke-width="2" />
<text x="547.80" y="690.70" font-size="18" text-anchor="end" fill="#000" font-weight="bold" >-60</text>
<line x1="555.00" y1="700.85" x2="558.50" y2="700.85" stroke="#000" stroke-width="2" />
<line x1="552.00" y1="717.10" x2="558.50" y2="717.10" stroke="#000" stroke-width="2" />
<text x="547.80" y="723.20" font-size="18" text-anchor="end" fill="#000" font-weight="bold" >-70</text>
<line x1="558.50" y1="717.10" x2="558.50" y2="723.10" stroke="#000" stroke-width="2" />
<line x1="584.54" y1="717.10" x2="584.54" y2="720.60" stroke="#000" stroke-width="2" />
<line x1="610.58" y1="717.10" x2="610.58" y2="723.10" stroke="#000" stroke-width="2" />
<line x1="636.61" y1="717.10" x2="636.61" y2="720.60" stroke="#000" stroke-width="2" />
<line x1="662.65" y1="717.10" x2="662.65" y2="723.10" stroke="#000" stroke-width="2" />
<line x1="688.69" y1="717.10" x2="688.69" y2="720.60" stroke="#000" stroke-width="2" />
<line x1="714.73" y1="717.10" x2="714.73" y2="723.10" stroke="#000" stroke-width="2" />
<line x1="740.76" y1="717.10" x2="740.76" y2="720.60" stroke="#000" stroke-width="2" />
<line x1="766.80" y1="717.10" x2="766.80" y2="723.10" stroke="#000" stroke-width="2" />
<line x1="792.84" y1="717.10" x2="792.84" y2="720.60" stroke="#000" stroke-width="2" />
<line x1="818.88" y1="717.10" x2="818.88" y2="723.10" stroke="#000" stroke-width="2" />
<line x1="844.91" y1="717.10" x2="844.91" y2="720.60" stroke="#000" stroke-width="2" />
<line x1="870.95" y1="717.10" x2="870.95" y2="723.10" stroke="#000" stroke-width="2" />
<line x1="896.99" y1="717.10" x2="896.99" y2="720.60" stroke="#000" stroke-width="2" />
<line x1="923.03" y1="717.10" x2="923.03" y2="723.10" stroke="#000" stroke-width="2" />
<text x="558.50" y="741.40" font-size="18" text-anchor="middle" fill="#000" font-weight="bold" >0</text>
<text x="610.58" y="741.40" font-size="18" text-anchor="middle" fill="#000" font-weight="bold" >500</text>
<text x="662.65" y="741.40" font-size="18" text-anchor="middle" fill="#000" font-weight="bold" >1000</text>
<text x="714.73" y="741.40" font-size="18" text-anchor="middle" fill="#000" font-weight="bold" >1500</text>
<text x="766.80" y="741.40" font-size="18" text-anchor="middle" fill="#000" font-weight="bold" >2000</text>
<text x="818.88" y="741.40" font-size="18" text-anchor="middle" fill="#000" font-weight="bold" >2500</text>
<text x="870.95" y="741.40" font-size="18" text-anchor="middle" fill="#000" font-weight="bold" >3000</text>
<text x="923.03" y="741.40" font-size="18" text-anchor="middle" fill="#000" font-weight="bold" >3500</text>
<text x="740.00" y="770.40" font-size="17.6" text-anchor="middle" fill="#000" font-weight="bold" letter-spacing="0.35">Temperature (K)</text>
<text transform="translate(502.5,564.5) rotate(-90)" font-size="18.3" font-weight="bold" text-anchor="middle">Δ<tspan font-size="12" dy="4.5">R</tspan><tspan dy="-4.5">G</tspan><tspan font-size="12" dy="4.5">m</tspan><tspan dy="-4.5"> (kJ/mol)</tspan></text>
<rect x="687.7" y="429.6" width="229.5" height="40.6" fill="#fff" stroke="#888" stroke-width="0.8"/>
<line x1="688.00" y1="440.60" x2="724.00" y2="440.60" stroke="#BE1E1E" stroke-width="2" />
<circle cx="706.50" cy="440.6" r="3.6" fill="url(#g_red)"/>
<text x="728.80" y="445.90" font-size="15.2" text-anchor="start" fill="#000" font-weight="bold" >Reaction 7</text>
<line x1="798.60" y1="440.60" x2="834.60" y2="440.60" stroke="#14148C" stroke-width="2" />
<circle cx="817.10" cy="440.6" r="3.6" fill="url(#g_blue)"/>
<text x="839.40" y="445.90" font-size="15.2" text-anchor="start" fill="#000" font-weight="bold" >Reaction 8</text>
<line x1="688.00" y1="459.80" x2="724.00" y2="459.80" stroke="#E3A04A" stroke-width="2" />
<circle cx="706.50" cy="459.8" r="3.6" fill="url(#g_orange)"/>
<text x="728.80" y="465.10" font-size="15.2" text-anchor="start" fill="#000" font-weight="bold" >Reaction 9</text>
<line x1="798.60" y1="459.80" x2="834.60" y2="459.80" stroke="#7D2AC8" stroke-width="2" />
<circle cx="817.10" cy="459.8" r="3.6" fill="url(#g_purple)"/>
<text x="839.40" y="465.10" font-size="15.2" text-anchor="start" fill="#000" font-weight="bold" >Reaction 10</text>
<text transform="translate(751,520) rotate(4.7)" font-size="16.8" font-weight="bold" fill="#C82828"><tspan font-style="italic">y</tspan><tspan font-size="10" dy="3">7</tspan><tspan dy="-3">=0.195-0.192×10</tspan><tspan font-size="10" dy="-6">-2</tspan><tspan dy="6">T</tspan></text>
<text transform="translate(788,567.5) rotate(30)" font-size="16.8" font-weight="bold" fill="#7F28CC"><tspan font-style="italic">y</tspan><tspan font-size="10" dy="3">10</tspan><tspan dy="-3">=19.128-0.021T</tspan></text>
<text transform="translate(716,566) rotate(28.5)" font-size="16.8" font-weight="bold" fill="#E39A3B"><tspan font-style="italic">y</tspan><tspan font-size="10" dy="3">9</tspan><tspan dy="-3">=0.495-0.020T</tspan></text>
<text transform="translate(716,618.5) rotate(30.5)" font-size="16.8" font-weight="bold" fill="#1A1AA0"><tspan font-style="italic">y</tspan><tspan font-size="10" dy="3">8</tspan><tspan dy="-3">=3.826-0.020T</tspan></text>
<g fill="#fff" fill-opacity="0.93" stroke="#3a3a3a" stroke-width="0.75" stroke-opacity="0.85" stroke-linejoin="round"><path d="M719.5,745.6 L716.8,752 L724.5,747.4"/><ellipse cx="726" cy="738" rx="12" ry="9.8"/><path d="M719.5,745.6 L716.8,752 L724.5,747.4" stroke="none"/><circle cx="721.8" cy="735.3" r="1.1" fill="#222" stroke="none"/><circle cx="731.6" cy="735.3" r="1.1" fill="#222" stroke="none"/><path d="M743.5,757.5 L747,761.5 L740,758.6"/><ellipse cx="738.5" cy="749.6" rx="11" ry="9.2"/><path d="M743.5,757.5 L747,761.5 L740,758.6" stroke="none"/><path d="M732.5,744 l1.6,-1 M742,744 l1.6,-1" fill="none" stroke-width="0.9"/></g>
<text x="758.5" y="752" font-size="22.5" font-family="'Liberation Sans', 'Noto Sans CJK SC', sans-serif" fill="#fff" fill-opacity="0.9" stroke="#3c3c3c" stroke-width="0.75" stroke-opacity="0.85" letter-spacing="0.2">材料科学与工程</text>
</svg></body></html>
